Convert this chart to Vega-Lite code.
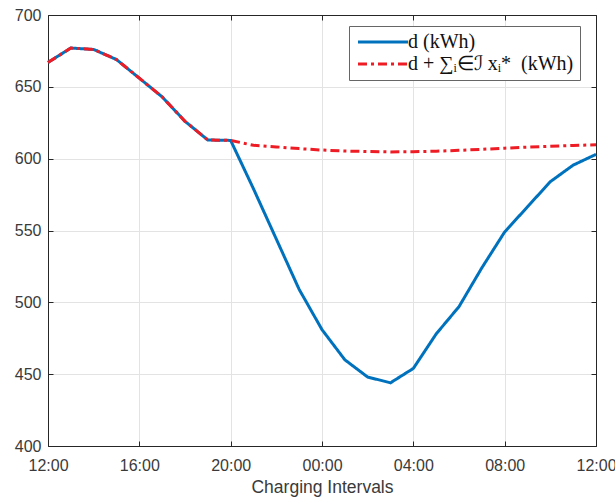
{
  "$schema": "https://vega.github.io/schema/vega-lite/v6.json",
  "width": 548,
  "height": 431,
  "autosize": "none",
  "padding": {"left": 48, "top": 15, "right": 19, "bottom": 52},
  "background": "white",
  "config": {
    "view": {"stroke": null},
    "axis": {
      "domainColor": "#262626",
      "tickColor": "#262626",
      "labelColor": "#3a3a3a",
      "titleColor": "#3a3a3a",
      "labelFont": "Liberation Sans",
      "titleFont": "Liberation Sans",
      "labelFontSize": 16,
      "titleFontSize": 17.5,
      "titleFontWeight": "normal",
      "gridColor": "#e3e3e3",
      "gridWidth": 1,
      "tickSize": -5,
      "domainWidth": 1
    }
  },
  "data": {
    "values": [
      {"h": 0, "s": "d (kWh)", "v": 667}, {"h": 1, "s": "d (kWh)", "v": 677}, {"h": 2, "s": "d (kWh)", "v": 676},
      {"h": 3, "s": "d (kWh)", "v": 669}, {"h": 4, "s": "d (kWh)", "v": 656}, {"h": 5, "s": "d (kWh)", "v": 643},
      {"h": 6, "s": "d (kWh)", "v": 626}, {"h": 7, "s": "d (kWh)", "v": 613}, {"h": 8, "s": "d (kWh)", "v": 612.7},
      {"h": 9, "s": "d (kWh)", "v": 579}, {"h": 10, "s": "d (kWh)", "v": 544}, {"h": 11, "s": "d (kWh)", "v": 509},
      {"h": 12, "s": "d (kWh)", "v": 481}, {"h": 13, "s": "d (kWh)", "v": 460}, {"h": 14, "s": "d (kWh)", "v": 448},
      {"h": 15, "s": "d (kWh)", "v": 444}, {"h": 16, "s": "d (kWh)", "v": 454}, {"h": 17, "s": "d (kWh)", "v": 478},
      {"h": 18, "s": "d (kWh)", "v": 497}, {"h": 19, "s": "d (kWh)", "v": 524}, {"h": 20, "s": "d (kWh)", "v": 549},
      {"h": 21, "s": "d (kWh)", "v": 566.5}, {"h": 22, "s": "d (kWh)", "v": 584}, {"h": 23, "s": "d (kWh)", "v": 595.5},
      {"h": 24, "s": "d (kWh)", "v": 603},
      {"h": 0, "s": "d + ∑ᵢ∈ℐ xᵢ*\u00a0 (kWh)", "v": 667}, {"h": 1, "s": "d + ∑ᵢ∈ℐ xᵢ*\u00a0 (kWh)", "v": 677}, {"h": 2, "s": "d + ∑ᵢ∈ℐ xᵢ*\u00a0 (kWh)", "v": 676},
      {"h": 3, "s": "d + ∑ᵢ∈ℐ xᵢ*\u00a0 (kWh)", "v": 669}, {"h": 4, "s": "d + ∑ᵢ∈ℐ xᵢ*\u00a0 (kWh)", "v": 656}, {"h": 5, "s": "d + ∑ᵢ∈ℐ xᵢ*\u00a0 (kWh)", "v": 643},
      {"h": 6, "s": "d + ∑ᵢ∈ℐ xᵢ*\u00a0 (kWh)", "v": 626}, {"h": 7, "s": "d + ∑ᵢ∈ℐ xᵢ*\u00a0 (kWh)", "v": 613}, {"h": 8, "s": "d + ∑ᵢ∈ℐ xᵢ*\u00a0 (kWh)", "v": 612.7},
      {"h": 9, "s": "d + ∑ᵢ∈ℐ xᵢ*\u00a0 (kWh)", "v": 609.3}, {"h": 10, "s": "d + ∑ᵢ∈ℐ xᵢ*\u00a0 (kWh)", "v": 608.2}, {"h": 11, "s": "d + ∑ᵢ∈ℐ xᵢ*\u00a0 (kWh)", "v": 607},
      {"h": 12, "s": "d + ∑ᵢ∈ℐ xᵢ*\u00a0 (kWh)", "v": 606}, {"h": 13, "s": "d + ∑ᵢ∈ℐ xᵢ*\u00a0 (kWh)", "v": 605.3}, {"h": 14, "s": "d + ∑ᵢ∈ℐ xᵢ*\u00a0 (kWh)", "v": 605},
      {"h": 15, "s": "d + ∑ᵢ∈ℐ xᵢ*\u00a0 (kWh)", "v": 604.7}, {"h": 16, "s": "d + ∑ᵢ∈ℐ xᵢ*\u00a0 (kWh)", "v": 604.8}, {"h": 17, "s": "d + ∑ᵢ∈ℐ xᵢ*\u00a0 (kWh)", "v": 605.2},
      {"h": 18, "s": "d + ∑ᵢ∈ℐ xᵢ*\u00a0 (kWh)", "v": 605.8}, {"h": 19, "s": "d + ∑ᵢ∈ℐ xᵢ*\u00a0 (kWh)", "v": 606.5}, {"h": 20, "s": "d + ∑ᵢ∈ℐ xᵢ*\u00a0 (kWh)", "v": 607.3},
      {"h": 21, "s": "d + ∑ᵢ∈ℐ xᵢ*\u00a0 (kWh)", "v": 608}, {"h": 22, "s": "d + ∑ᵢ∈ℐ xᵢ*\u00a0 (kWh)", "v": 608.6}, {"h": 23, "s": "d + ∑ᵢ∈ℐ xᵢ*\u00a0 (kWh)", "v": 609.2},
      {"h": 24, "s": "d + ∑ᵢ∈ℐ xᵢ*\u00a0 (kWh)", "v": 609.7}
    ]
  },
  "layer": [
    {
      "encoding": {
        "x": {
          "field": "h", "type": "quantitative",
          "scale": {"domain": [0, 24], "nice": false, "zero": false},
          "axis": {
            "values": [0, 4, 8, 12, 16, 20, 24],
            "labelExpr": "['12:00','16:00','20:00','00:00','04:00','08:00','12:00'][datum.value / 4]",
            "title": "Charging Intervals",
            "labelPadding": 16,
            "titlePadding": 5,
            "labelFlush": false,
            "labelOverlap": false,
            "grid": true
          }
        },
        "y": {
          "field": "v", "type": "quantitative",
          "scale": {"domain": [400, 700], "nice": false, "zero": false},
          "axis": {
            "values": [400, 450, 500, 550, 600, 650, 700],
            "title": null,
            "labelPadding": 12,
            "grid": true
          }
        },
        "color": {
          "field": "s", "type": "nominal",
          "scale": {"domain": ["d (kWh)", "d + ∑ᵢ∈ℐ xᵢ*\u00a0 (kWh)"], "range": ["#0072BD", "#EE1C25"]},
          "legend": {
            "title": null,
            "orient": "none",
            "legendX": 301,
            "legendY": 11,
            "symbolType": "M-5,0H5",
            "symbolSize": 100,
            "symbolOffset": 18,
            "labelOffset": 15,
            "labelAlign": "left",
            "symbolStrokeWidth": 3,
            "labelFont": "Liberation Serif",
            "labelFontSize": 20,
            "labelColor": "#111",
            "labelLimit": 400,
            "fillColor": "white",
            "strokeColor": "#666",
            "padding": 6,
            "rowPadding": 2,
            "cornerRadius": 0
          }
        },
        "strokeDash": {
          "field": "s", "type": "nominal",
          "scale": {"domain": ["d (kWh)", "d + ∑ᵢ∈ℐ xᵢ*\u00a0 (kWh)"], "range": [[1, 0], [9, 4, 3, 4]]},
          "legend": null
        }
      },
      "layer": [
        {
          "transform": [{"filter": "datum.s == 'd (kWh)'"}],
          "mark": {"type": "line", "strokeWidth": 3}
        },
        {
          "transform": [{"filter": "datum.s != 'd (kWh)'"}],
          "mark": {"type": "line", "strokeWidth": 3}
        }
      ]
    },
    {
      "transform": [{"filter": "datum.s == 'd (kWh)'"}],
      "mark": {"type": "point", "opacity": 0},
      "encoding": {
        "x": {
          "field": "h", "type": "quantitative",
          "scale": {"domain": [0, 24], "nice": false, "zero": false},
          "axis": {"orient": "top", "values": [0, 4, 8, 12, 16, 20, 24], "labels": false, "title": null, "grid": false}
        },
        "y": {
          "field": "v", "type": "quantitative",
          "scale": {"domain": [400, 700], "nice": false, "zero": false},
          "axis": {"orient": "right", "values": [400, 450, 500, 550, 600, 650, 700], "labels": false, "title": null, "grid": false}
        }
      }
    }
  ],
  "resolve": {"axis": {"x": "independent", "y": "independent"}}
}
